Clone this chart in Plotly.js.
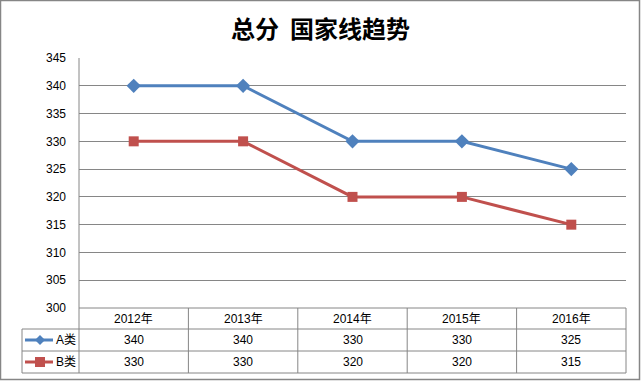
<!DOCTYPE html>
<html>
<head>
<meta charset="utf-8">
<script src="https://cdn.plot.ly/plotly-3.0.1.min.js"></script>
<style>html,body{margin:0;padding:0;background:#fff;}#chart{width:641px;height:381px;}</style>
</head>
<body>
<div id="chart"></div>
<script>
const titleText = '总分 国家线趋势';
const categories = ['2012年', '2013年', '2014年', '2015年', '2016年'];
const seriesNames = ['A类', 'B类'];
const seriesA = [340, 340, 330, 330, 325];
const seriesB = [330, 330, 320, 320, 315];
const yTicks = [300, 305, 310, 315, 320, 325, 330, 335, 340, 345];

const colors = ['#4F81BD', '#C0504D'];
const symbols = ['diamond', 'square'];
const allSeries = [seriesA, seriesB];

const W = 641, H = 381;
const mL = 79, mR = 15, mT = 58, mB = 73;
const pw = W - mL - mR, ph = H - mT - mB;
const px = v => (v - mL) / pw;        // pixel x -> paper x
const py = v => (H - mB - v) / ph;    // pixel y -> paper y

const traces = allSeries.map((s, i) => ({
  x: categories.map((c, k) => k),
  y: s,
  type: 'scatter',
  mode: 'lines+markers',
  name: seriesNames[i],
  line: {color: colors[i], width: 3},
  marker: {symbol: symbols[i], size: i === 0 ? 11 : 10, color: colors[i]},
  showlegend: false,
  hoverinfo: 'skip'
}));

const grey = '#868686';
const shapes = [];
const annotations = [];
// outer border
shapes.push({type: 'rect', xref: 'paper', yref: 'paper', x0: px(0.5), x1: px(639.5), y0: py(379.5), y1: py(0.5), line: {color: grey, width: 1.5}});
// table rows
const rowY = [308, 329, 351, 373];
const tableLeft = 22, tableRight = 626;
shapes.push({type: 'line', xref: 'paper', yref: 'paper', x0: px(mL), x1: px(tableRight), y0: py(rowY[0]), y1: py(rowY[0]), line: {color: grey, width: 1}});
for (let r = 1; r < rowY.length; r++) {
  shapes.push({type: 'line', xref: 'paper', yref: 'paper', x0: px(tableLeft), x1: px(tableRight), y0: py(rowY[r]), y1: py(rowY[r]), line: {color: grey, width: 1}});
}
// table vertical lines
shapes.push({type: 'line', xref: 'paper', yref: 'paper', x0: px(tableLeft), x1: px(tableLeft), y0: py(rowY[1]), y1: py(rowY[3]), line: {color: grey, width: 1}});
shapes.push({type: 'line', xref: 'paper', yref: 'paper', x0: 0, x1: 0, y0: 1, y1: py(rowY[3]), line: {color: grey, width: 1}});
for (let k = 1; k <= categories.length; k++) {
  const xp = k / categories.length;
  shapes.push({type: 'line', xref: 'paper', yref: 'paper', x0: xp, x1: xp, y0: py(rowY[0]), y1: py(rowY[3]), line: {color: grey, width: 1}});
}
// category header and values
const font = {family: 'Liberation Sans, Arial, Noto Sans CJK SC, sans-serif', size: 12, color: '#000'};
categories.forEach((c, k) => {
  const xc = (k + 0.5) / categories.length;
  annotations.push({xref: 'paper', yref: 'paper', x: xc, y: py((rowY[0] + rowY[1]) / 2), text: c, showarrow: false, font: font, xanchor: 'center', yanchor: 'middle'});
  allSeries.forEach((s, i) => {
    annotations.push({xref: 'paper', yref: 'paper', x: xc, y: py((rowY[i + 1] + rowY[i + 2]) / 2), text: String(s[k]), showarrow: false, font: font, xanchor: 'center', yanchor: 'middle'});
  });
});
// legend keys in table
seriesNames.forEach((n, i) => {
  const yc = (rowY[i + 1] + rowY[i + 2]) / 2;
  shapes.push({type: 'line', xref: 'paper', yref: 'paper', x0: px(25), x1: px(53), y0: py(yc), y1: py(yc), line: {color: colors[i], width: 3}});
  if (i === 0) {
    shapes.push({type: 'path', xref: 'paper', yref: 'paper',
      path: `M ${px(40)} ${py(yc - 5)} L ${px(45)} ${py(yc)} L ${px(40)} ${py(yc + 5)} L ${px(35)} ${py(yc)} Z`,
      fillcolor: colors[i], line: {color: colors[i], width: 0}});
  } else {
    shapes.push({type: 'rect', xref: 'paper', yref: 'paper', x0: px(35), x1: px(45), y0: py(yc + 5), y1: py(yc - 5), fillcolor: colors[i], line: {width: 0}});
  }
  annotations.push({xref: 'paper', yref: 'paper', x: px(54), y: py(yc), text: n, showarrow: false, font: font, xanchor: 'left', yanchor: 'middle'});
});

const layout = {
  width: W, height: H,
  margin: {l: mL, r: mR, t: mT, b: mB, pad: 0},
  paper_bgcolor: '#fff', plot_bgcolor: '#fff',
  title: {text: '<b>' + titleText.replace(' ', ' &nbsp;') + '</b>', x: 0.5, xref: 'container', xanchor: 'center', y: 1 - 30 / H, yanchor: 'middle',
    font: {family: 'Noto Sans CJK SC, sans-serif', size: 24, color: '#000'}},
  xaxis: {range: [-0.5, categories.length - 0.5], showticklabels: false, showgrid: false, zeroline: false, showline: false, ticks: '', fixedrange: true},
  yaxis: {range: [yTicks[0], yTicks[yTicks.length - 1]], tickvals: yTicks, ticktext: yTicks.map(String),
    showgrid: true, gridcolor: grey, gridwidth: 1, zeroline: false, showline: false, ticks: '',
    ticklabelstandoff: 12, tickfont: font, fixedrange: true},
  shapes: shapes,
  annotations: annotations,
  showlegend: false
};
Plotly.newPlot('chart', traces, layout, {displayModeBar: false, staticPlot: true});
</script>
</body>
</html>
